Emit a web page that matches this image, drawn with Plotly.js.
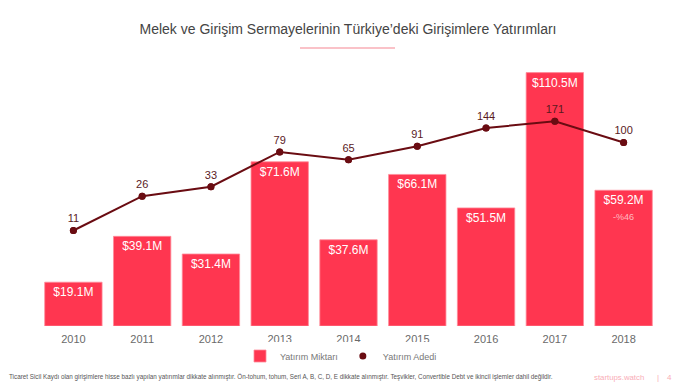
<!DOCTYPE html>
<html>
<head>
<meta charset="utf-8">
<script src="https://cdn.plot.ly/plotly-3.0.1.min.js"></script>
<style>html,body{margin:0;padding:0;background:#fff;}#chart{width:696px;height:385px;}</style>
</head>
<body>
<div id="chart"></div>
<script>
const years = ['2010','2011','2012','2013','2014','2015','2016','2017','2018'];
const amounts = [19.1, 39.1, 31.4, 71.6, 37.6, 66.1, 51.5, 110.5, 59.2];
const counts = [11, 26, 33, 79, 65, 91, 144, 171, 100];
const changeLabel = '-%46';
const titleText = 'Melek ve Girişim Sermayelerinin Türkiye’deki Girişimlere Yatırımları';
const footnote = 'Ticaret Sicil Kaydı olan girişimlere hisse bazlı yapılan yatırımlar dikkate alınmıştır. Ön-tohum, tohum, Seri A, B, C, D, E dikkate alınmıştır. Teşvikler, Convertible Debt ve ikincil işlemler dahil değildir.';

const FONT = 'Liberation Sans, Arial, sans-serif';
const BAR = '#FF3650';
const LINE = '#6A0C12';

const traces = [
  {
    type: 'bar', name: 'Yatırım Miktarı', x: years, y: amounts,
    marker: {color: BAR, line: {color: '#FF8C99', width: 0.8}},
    texttemplate: '$%{y:.1f}M', textposition: 'inside', insidetextanchor: 'end',
    textfont: {family: FONT, size: 12, color: '#ffffff'},
    constraintext: 'none', cliponaxis: false, hoverinfo: 'skip'
  },
  {
    type: 'scatter', mode: 'lines+markers+text', x: years, y: counts, yaxis: 'y2',
    showlegend: false,
    line: {color: LINE, width: 2}, marker: {color: LINE, size: 7},
    text: counts.map(String), textposition: 'top center',
    textfont: {family: FONT, size: 11, color: '#5a1a1e'}, cliponaxis: false, hoverinfo: 'skip'
  },
  {
    type: 'scatter', mode: 'markers', name: 'Yatırım Adedi', x: years, y: counts, yaxis: 'y2',
    marker: {color: LINE, size: 7}, cliponaxis: false, hoverinfo: 'skip'
  }
];

const plotW = 696 - 39 - 38, plotH = 385 - 60 - 59;
function px(x) { return (x - 39) / plotW; }
function py(y) { return (326 - y) / plotH; }

const layout = {
  width: 696, height: 385,
  margin: {l: 39, r: 38, t: 60, b: 59},
  paper_bgcolor: '#ffffff', plot_bgcolor: '#ffffff',
  font: {family: FONT},
  title: {text: titleText, font: {family: FONT, size: 14, color: '#444444'},
          x: 0.5, xanchor: 'center', y: 1 - 29/385, yanchor: 'middle'},
  bargap: 0.166,
  xaxis: {type: 'category', range: [-0.5, years.length - 0.5], autorange: false,
          showgrid: false, zeroline: false, showline: false, ticklabelstandoff: 5,
          ticks: '', tickfont: {family: FONT, size: 11, color: '#6a6a6a'}, fixedrange: true},
  yaxis: {range: [0, 116], visible: false, showgrid: false, zeroline: false},
  yaxis2: {type: 'log', range: [0, 2.90], overlaying: 'y', visible: false, showgrid: false, zeroline: false},
  showlegend: true,
  legend: {orientation: 'h', x: px(341), xanchor: 'center', y: py(356), yanchor: 'middle',
           font: {family: FONT, size: 9, color: '#777777'}, itemwidth: 30, tracegroupgap: 0},
  shapes: [
    {type: 'line', xref: 'paper', yref: 'paper', x0: px(300), x1: px(395), y0: py(48), y1: py(48),
     line: {color: '#FAC2C8', width: 2}}
  ],
  annotations: [
    {x: years.length - 1, y: amounts[amounts.length - 1], xref: 'x', yref: 'y', text: changeLabel, showarrow: false,
     yshift: -27, font: {family: FONT, size: 9, color: 'rgba(255,255,255,0.65)'}},
    {x: px(7), y: py(377), xref: 'paper', yref: 'paper', text: footnote, showarrow: false,
     xanchor: 'left', yanchor: 'middle', font: {family: FONT, size: 6.3, color: '#555555'}},
    {x: px(592), y: py(377), xref: 'paper', yref: 'paper', text: 'startups.watch', showarrow: false,
     xanchor: 'left', yanchor: 'middle', font: {family: FONT, size: 7.8, color: '#F9ADB7'}},
    {x: px(658), y: py(377), xref: 'paper', yref: 'paper', text: '|', showarrow: false,
     xanchor: 'center', yanchor: 'middle', font: {family: FONT, size: 8, color: '#F9ADB7'}},
    {x: px(669), y: py(377), xref: 'paper', yref: 'paper', text: '4', showarrow: false,
     xanchor: 'center', yanchor: 'middle', font: {family: FONT, size: 8, color: '#F9ADB7'}}
  ]
};

Plotly.newPlot('chart', traces, layout, {displayModeBar: false, staticPlot: true});
</script>
</body>
</html>
